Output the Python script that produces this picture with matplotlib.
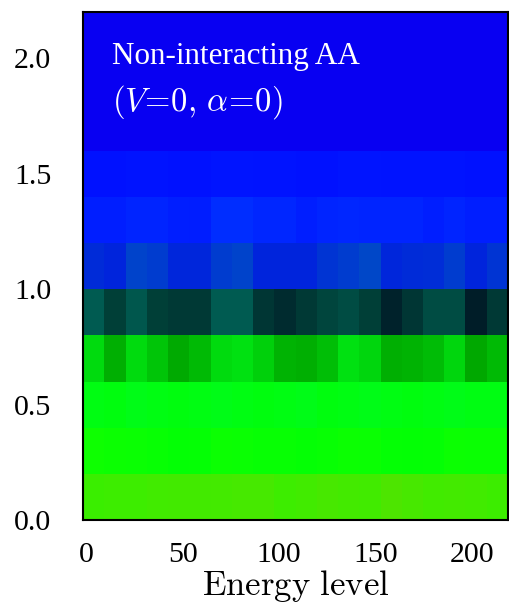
import matplotlib
matplotlib.use('Agg')
import matplotlib.pyplot as plt
from matplotlib.colors import LinearSegmentedColormap, Normalize
import numpy as np

plt.rcParams['font.family'] = 'serif'
plt.rcParams['font.serif'] = ['Liberation Serif', 'DejaVu Serif']
plt.rcParams['mathtext.fontset'] = 'cm'

# energy bins (11 levels per bin) and spectral-weight bins along y
bin_width = 11
n_bins = 20
x_start = -1.5
y_edges = np.round(np.arange(0, 2.21, 0.2), 2)

# per-bin weight (colour index), one list per y row, bottom to top
row_00 = [0.07, 0.06, 0.06, 0.05, 0.045, 0.045, 0.04, 0.035, 0.035, 0.06,
          0.05, 0.03, 0.04, 0.05, 0.01, 0.03, 0.05, 0.04, 0.05, 0.065]
row_02 = [0.14, 0.15, 0.16, 0.17, 0.19, 0.184, 0.15, 0.16, 0.17, 0.17,
          0.184, 0.17, 0.15, 0.16, 0.184, 0.19, 0.184, 0.15, 0.16, 0.16]
row_04 = [0.23, 0.22, 0.24, 0.23, 0.22, 0.23, 0.24, 0.23, 0.22, 0.23,
          0.24, 0.22, 0.23, 0.24, 0.23, 0.22, 0.23, 0.24, 0.23, 0.23]
row_06 = [0.31, 0.39, 0.31, 0.35, 0.395, 0.37, 0.31, 0.30, 0.33, 0.38,
          0.39, 0.36, 0.30, 0.32, 0.39, 0.38, 0.365, 0.32, 0.40, 0.37]
row_08 = [0.45, 0.50, 0.46, 0.50, 0.51, 0.51, 0.45, 0.45, 0.515, 0.53,
          0.51, 0.49, 0.48, 0.50, 0.54, 0.515, 0.48, 0.48, 0.55, 0.51]
row_10 = [0.61, 0.60, 0.65, 0.64, 0.605, 0.605, 0.64, 0.65, 0.60, 0.60,
          0.60, 0.625, 0.64, 0.66, 0.605, 0.61, 0.615, 0.64, 0.60, 0.625]
row_12 = [0.78, 0.78, 0.76, 0.76, 0.78, 0.79, 0.73, 0.73, 0.75, 0.75,
          0.78, 0.76, 0.75, 0.76, 0.76, 0.76, 0.78, 0.76, 0.78, 0.78]
row_14 = [0.88, 0.88, 0.87, 0.87, 0.88, 0.88, 0.86, 0.86, 0.87, 0.87,
          0.88, 0.88, 0.86, 0.86, 0.87, 0.87, 0.87, 0.87, 0.88, 0.88]
row_16 = [1.0] * n_bins
row_18 = [1.0] * n_bins
row_20 = [1.0] * n_bins

weight = np.array([row_00, row_02, row_04, row_06, row_08, row_10,
                   row_12, row_14, row_16, row_18, row_20])

cmap = LinearSegmentedColormap.from_list('aa', [
    (0.00, '#50e400'), (0.08, '#36f000'), (0.12, '#12ff00'),
    (0.20, '#00ff06'), (0.26, '#00fa20'), (0.30, '#00e010'),
    (0.40, '#00a800'), (0.45, '#005c52'), (0.50, '#004038'),
    (0.55, '#001c28'), (0.60, '#0024dc'), (0.66, '#0048c8'),
    (0.72, '#0030ff'), (0.78, '#001eff'), (0.85, '#0016ff'),
    (0.92, '#000cff'), (1.00, '#0800f2')])

x_edges = x_start + bin_width * np.arange(n_bins + 1)

fig = plt.figure(figsize=(5.1, 6.04), dpi=100)
ax = fig.add_axes([0.163, 0.139, 0.833, 0.841])
ax.pcolormesh(x_edges, y_edges, weight, cmap=cmap, norm=Normalize(0, 1),
              shading='flat')
ax.set_xlim(x_edges[0], x_edges[-1])
ax.set_ylim(y_edges[0], y_edges[-1])

ax.set_xticks([0, 50, 100, 150, 200])
ax.set_yticks([0.0, 0.5, 1.0, 1.5, 2.0])
ax.set_yticklabels(['0.0', '0.5', '1.0', '1.5', '2.0'])
ax.tick_params(axis='both', length=0, labelsize=21.5)
ax.tick_params(axis='y', pad=23)
ax.tick_params(axis='x', pad=16)
for s in ax.spines.values():
    s.set_linewidth(1.5)
    s.set_color('black')

ax.set_xlabel(r'$\mathrm{Energy\ level}$', fontsize=25, labelpad=0)

ax.text(0.068, 0.898, 'Non-interacting AA', transform=ax.transAxes,
        fontsize=22.4, color='white', ha='left', va='baseline')
ax.text(0.068, 0.807, r'$(V\!=\!0,\, \alpha\!=\!0)$', transform=ax.transAxes,
        fontsize=23.5, color='white', ha='left', va='baseline')

plt.savefig('out.png', dpi=100)
